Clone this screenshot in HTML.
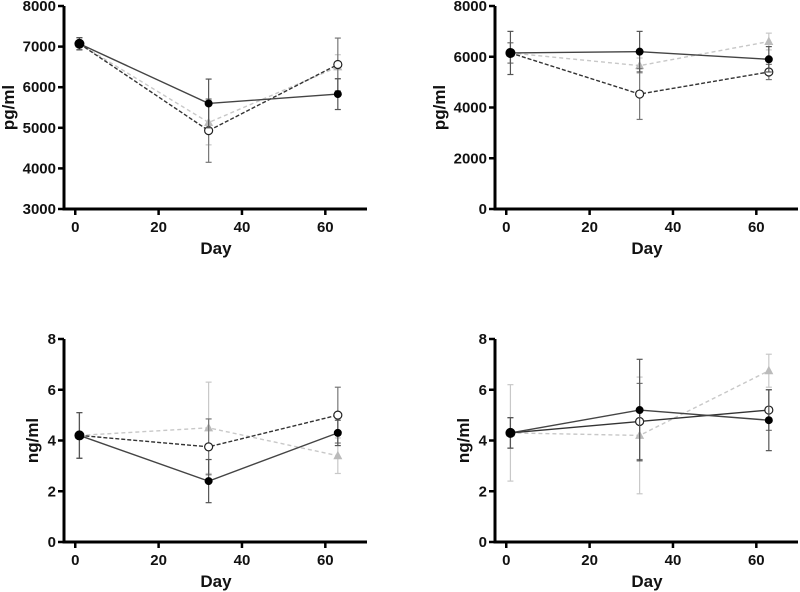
<!DOCTYPE html>
<html><head><meta charset="utf-8"><style>
body{margin:0;background:#fff;width:800px;height:592px;overflow:hidden}
svg{display:block}
text{font-family:"Liberation Sans",Arial,sans-serif;font-weight:bold;fill:#111}
</style></head><body>
<svg id="c" width="800" height="592"></svg>
<script>
const days=[1,32,63];
const xTicks=[0,20,40,60];
// panel 1 (pg/ml)
const p1Filled=[7070,5600,5830], p1FilledErr=[150,600,380];
const p1Open=[7070,4930,6560], p1OpenErr=[150,780,650];
const p1Tri=[7070,5130,6500], p1TriErr=[150,550,300];
const p1Ticks=[3000,4000,5000,6000,7000,8000];
// panel 2 (pg/ml)
const p2Filled=[6150,6200,5900], p2FilledErr=[850,800,500];
const p2Open=[6150,4530,5400], p2OpenErr=[400,1000,300];
const p2Tri=[6150,5650,6600], p2TriErr=[400,300,330];
const p2Ticks=[0,2000,4000,6000,8000];
// panel 3 (ng/ml)
const p3Filled=[4.2,2.4,4.3], p3FilledErr=[0.9,0.85,0.5];
const p3Open=[4.2,3.75,5.0], p3OpenErr=[0.9,1.1,1.1];
const p3Tri=[4.2,4.5,3.4], p3TriErr=[0.9,1.8,0.7];
const p3Ticks=[0,2,4,6,8];
// panel 4 (ng/ml)
const p4Filled=[4.3,5.2,4.8], p4FilledErr=[0.6,2.0,1.2];
const p4Open=[4.3,4.75,5.2], p4OpenErr=[0.6,1.5,0.8];
const p4Tri=[4.3,4.2,6.75], p4TriErr=[1.9,2.3,0.65];
const p4Ticks=[0,2,4,6,8];

const NS="http://www.w3.org/2000/svg";
const svg=document.getElementById('c');
function mk(t,a,p){const e=document.createElementNS(NS,t);for(const k in a)e.setAttribute(k,a[k]);(p||svg).appendChild(e);return e;}

function panel(id,ax,top,bot,ymin,ymax,ticks,ylab,series){
  const g=mk('g',{});
  
  
  const xr=ax+303;
  const X=v=>ax+(v+2.7)*(303/72.7);
  const Y=v=>bot-(v-ymin)/(ymax-ymin)*(bot-top);
  series.forEach(s=>{
    const sg=mk('g',{},g);
    
    
    days.forEach((d,i)=>{
      const x=X(d),y1=Y(s.v[i]-s.e[i]),y2=Y(s.v[i]+s.e[i]);
      mk('line',{x1:x,x2:x,y1:y1,y2:y2,stroke:s.ec,'stroke-width':1.2},sg);
      mk('line',{x1:x-3,x2:x+3,y1:y1,y2:y1,stroke:s.ec,'stroke-width':1.2},sg);
      mk('line',{x1:x-3,x2:x+3,y1:y2,y2:y2,stroke:s.ec,'stroke-width':1.2},sg);
    });
    const pts=days.map((d,i)=>X(d)+','+Y(s.v[i])).join(' ');
    const ln=mk('polyline',{points:pts,fill:'none',stroke:s.lc,'stroke-width':1.4},sg);
    if(s.dash)ln.setAttribute('stroke-dasharray',s.dash);
    days.forEach((d,i)=>{
      const x=X(d),y=Y(s.v[i]);let m;
      if(s.name==='triangle')m=mk('polygon',{points:`${x},${y-5} ${x-4.5},${y+3.5} ${x+4.5},${y+3.5}`,fill:'#bbb'},sg);
      else if(s.name==='open')m=mk('circle',{cx:x,cy:y,r:4,fill:'#fff',stroke:'#222','stroke-width':1.2},sg);
      else m=mk('circle',{cx:x,cy:y,r:i===0?5:4,fill:'#000'},sg);
      
      
    });
  });
  const ya=mk('line',{x1:ax,x2:ax,y1:top,y2:bot+1.5,stroke:'#000','stroke-width':3},g);
  
  const xa=mk('line',{x1:ax-1.5,x2:xr,y1:bot,y2:bot,stroke:'#000','stroke-width':3},g);
  
  ticks.forEach(t=>{
    const y=Y(t);
    mk('line',{x1:ax-6,x2:ax,y1:y,y2:y,stroke:'#000','stroke-width':2.5},g);
    const tx=mk('text',{x:ax-8,y:y+5,'text-anchor':'end','font-size':15},g);
    tx.textContent=t;
    
  });
  xTicks.forEach(t=>{
    const x=X(t);
    mk('line',{x1:x,x2:x,y1:bot,y2:bot+6,stroke:'#000','stroke-width':2.5},g);
    const tx=mk('text',{x:x,y:bot+23,'text-anchor':'middle','font-size':15},g);
    tx.textContent=t;
    
  });
  const xt=mk('text',{x:ax+152,y:bot+45,'text-anchor':'middle','font-size':17},g);
  xt.textContent='Day';
  
  const cy=(top+bot)/2;
  const off=ylab==='ng/ml'?26:50;
  const yt=mk('text',{x:ax-off,y:cy,'text-anchor':'middle','font-size':17,transform:`rotate(-90 ${ax-off} ${cy})`},g);
  yt.textContent=ylab;
  
}
function S(f,fe,o,oe,t,te,openDash){return [
  {name:'triangle',v:t,e:te,lc:'#c8c8c8',ec:'#c8c8c8',dash:'4,3'},
  {name:'open',v:o,e:oe,lc:'#333',ec:'#777',dash:openDash},
  {name:'filled',v:f,e:fe,lc:'#444',ec:'#555'}];}
panel('panel-top-left',64,6,209,3000,8000,p1Ticks,'pg/ml',S(p1Filled,p1FilledErr,p1Open,p1OpenErr,p1Tri,p1TriErr,'4,2'));
panel('panel-top-right',495,6,209,0,8000,p2Ticks,'pg/ml',S(p2Filled,p2FilledErr,p2Open,p2OpenErr,p2Tri,p2TriErr,'4,2'));
panel('panel-bottom-left',64,339,542,0,8,p3Ticks,'ng/ml',S(p3Filled,p3FilledErr,p3Open,p3OpenErr,p3Tri,p3TriErr,'4,2'));
panel('panel-bottom-right',495,339,542,0,8,p4Ticks,'ng/ml',S(p4Filled,p4FilledErr,p4Open,p4OpenErr,p4Tri,p4TriErr,null));
</script>
</body></html>
